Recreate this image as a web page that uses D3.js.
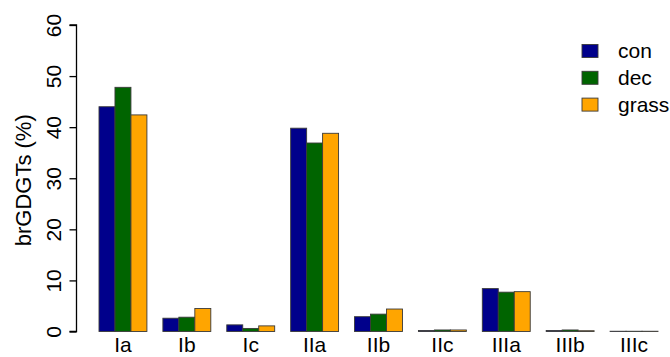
<!DOCTYPE html>
<html>
<head>
<meta charset="utf-8">
<script src="https://cdn.jsdelivr.net/npm/d3@7"></script>
<style>
  html, body { margin: 0; padding: 0; background: #fff; }
  svg { display: block; font-family: "Liberation Sans", Arial, Helvetica, sans-serif; }
</style>
</head>
<body>
<svg id="chart" width="670" height="357"></svg>
<script>
// brGDGT compound classes and relative abundance per vegetation type
const categories = ["Ia", "Ib", "Ic", "IIa", "IIb", "IIc", "IIIa", "IIIb", "IIIc"];
const seriesNames = ["con", "dec", "grass"];
const conValues   = [44.0, 2.6, 1.3, 39.8, 2.9, 0.2, 8.4, 0.2, 0.05];
const decValues   = [47.8, 2.8, 0.6, 36.9, 3.4, 0.3, 7.7, 0.3, 0.05];
const grassValues = [42.4, 4.5, 1.1, 38.8, 4.4, 0.3, 7.8, 0.15, 0.05];
const yTicks = [0, 10, 20, 30, 40, 50, 60];
const yLabel = "brGDGTs (%)";

const seriesValues = [conValues, decValues, grassValues];
const colors = ["#00008B", "#006400", "#FFA500"];

const svg = d3.select("#chart");
const fontSize = 21;

// bar layout in bar-width units: each group holds 3 bars plus one unit of gap before it
const nSeries = seriesNames.length;
const groupWidth = nSeries + 1;
const totalUnits = categories.length * groupWidth;

const x = d3.scaleLinear().domain([1, totalUnits]).range([99, 658]);
const y = d3.scaleLinear().domain([0, 60]).range([331.5, 25]);

const rows = [];
categories.forEach((c, i) => {
  seriesValues.forEach((vals, j) => {
    rows.push({ cat: c, s: j, v: vals[i], u: 1 + i * groupWidth + j });
  });
});

// bars
svg.append("g")
  .selectAll("rect")
  .data(rows)
  .join("rect")
  .attr("x", d => x(d.u))
  .attr("width", d => x(d.u + 1) - x(d.u))
  .attr("y", d => y(d.v))
  .attr("height", d => y(0) - y(d.v))
  .attr("fill", d => colors[d.s])
  .attr("stroke", "#3a3a3a")
  .attr("stroke-width", 0.9);

// y axis
const yAxis = d3.axisLeft(y).tickValues(yTicks).tickSize(7).tickPadding(9).tickFormat(d3.format("d"));
const gy = svg.append("g").attr("transform", "translate(76.5,0)").call(yAxis);
gy.select(".domain").attr("stroke", "#000").attr("stroke-width", 1.3).attr("d", `M-7,${y(0)}H0V${y(60)}H-7`);
gy.selectAll(".tick line").attr("stroke", "#000").attr("stroke-width", 1.3);
gy.selectAll(".tick text")
  .attr("font-size", fontSize)
  .attr("fill", "#000")
  .attr("font-family", null)
  .attr("transform", "rotate(-90)")
  .attr("x", 0)
  .attr("y", -16)
  .attr("dy", 0)
  .attr("text-anchor", "middle");

// y axis title
svg.append("text")
  .attr("transform", `translate(31,${(y(0) + y(60)) / 2 + 2}) rotate(-90)`)
  .attr("text-anchor", "middle")
  .attr("font-size", fontSize + 1)
  .attr("fill", "#000")
  .text(yLabel);

// category labels
svg.append("g")
  .selectAll("text")
  .data(categories)
  .join("text")
  .attr("x", (c, i) => (x(1 + i * groupWidth) + x(1 + i * groupWidth + nSeries)) / 2)
  .attr("y", 352)
  .attr("text-anchor", "middle")
  .attr("font-size", fontSize)
  .attr("fill", "#000")
  .text(d => d);

// legend
const legend = svg.append("g").attr("transform", "translate(582,0)");
seriesNames.forEach((name, j) => {
  const cy = 51 + j * 26.8;
  legend.append("rect")
    .attr("x", 0).attr("y", cy - 6.5)
    .attr("width", 16).attr("height", 13)
    .attr("fill", colors[j])
    .attr("stroke", "#3a3a3a").attr("stroke-width", 0.9);
  legend.append("text")
    .attr("x", 36).attr("y", cy + 7)
    .attr("font-size", fontSize)
    .attr("fill", "#000")
    .text(name);
});
</script>
</body>
</html>
